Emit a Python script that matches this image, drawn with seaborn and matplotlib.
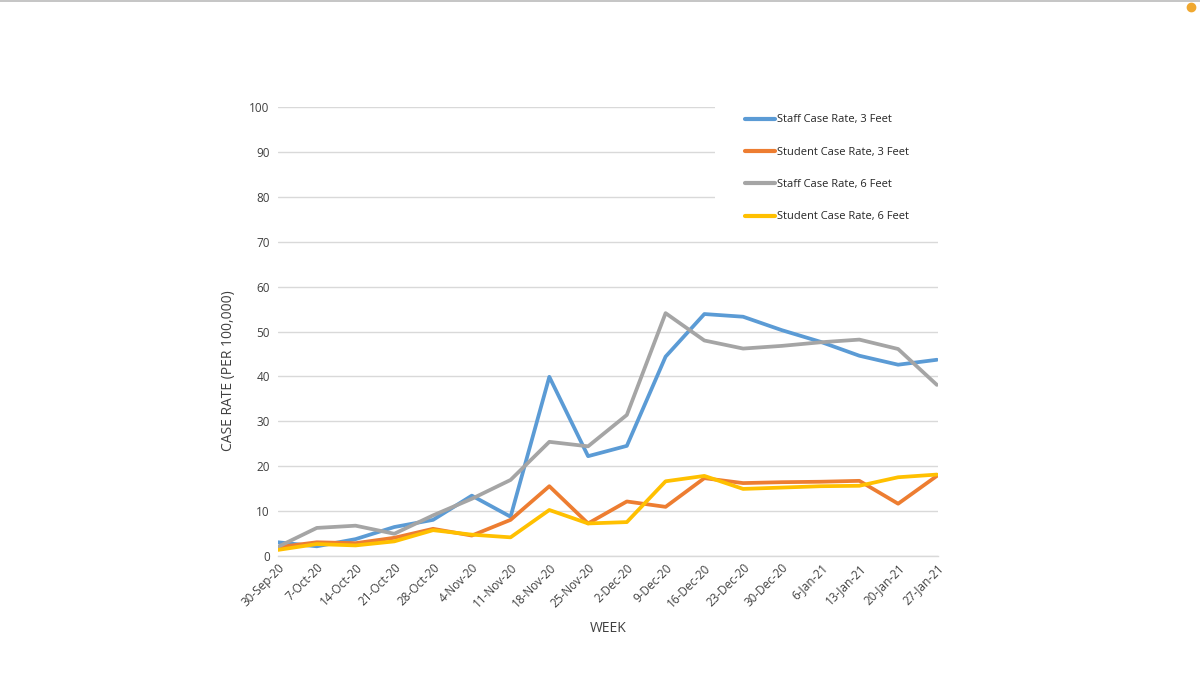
import matplotlib
matplotlib.use("Agg")
import matplotlib.pyplot as plt
from matplotlib.lines import Line2D
from matplotlib.patches import Rectangle
import seaborn as sns
import pandas as pd

weeks = ["30-Sep-20", "7-Oct-20", "14-Oct-20", "21-Oct-20", "28-Oct-20", "4-Nov-20",
         "11-Nov-20", "18-Nov-20", "25-Nov-20", "2-Dec-20", "9-Dec-20", "16-Dec-20",
         "23-Dec-20", "30-Dec-20", "6-Jan-21", "13-Jan-21", "20-Jan-21", "27-Jan-21"]

staff_3ft = [3.0, 2.1, 3.7, 6.4, 8.0, 13.4, 8.7, 39.9, 22.2, 24.5, 44.4, 53.9,
             53.3, 50.3, 47.7, 44.6, 42.6, 43.7]
student_3ft = [1.9, 3.0, 2.8, 4.0, 6.0, 4.5, 8.0, 15.5, 7.2, 12.1, 10.9, 17.3,
               16.2, 16.4, 16.5, 16.7, 11.6, 17.8]
staff_6ft = [2.0, 6.2, 6.7, 4.9, 9.0, 12.7, 16.9, 25.4, 24.4, 31.4, 54.1, 48.0,
             46.2, 46.8, 47.6, 48.2, 46.1, 38.1]
student_6ft = [1.3, 2.6, 2.3, 3.2, 5.7, 4.7, 4.1, 10.2, 7.2, 7.5, 16.6, 17.8,
               14.9, 15.2, 15.5, 15.6, 17.5, 18.1]

series_names = ["Staff Case Rate, 3 Feet", "Student Case Rate, 3 Feet",
                "Staff Case Rate, 6 Feet", "Student Case Rate, 6 Feet"]
series_values = [staff_3ft, student_3ft, staff_6ft, student_6ft]
colors = ["#5B9BD5", "#ED7D31", "#A5A5A5", "#FFC000"]

rows = []
for name, vals in zip(series_names, series_values):
    for i, v in enumerate(vals):
        rows.append({"idx": i, "value": v, "series": name})
df = pd.DataFrame(rows)

sns.set_theme(style="white")
plt.rcParams["font.family"] = ["Open Sans", "DejaVu Sans"]

fig = plt.figure(figsize=(12, 6.75), dpi=100)
ax = fig.add_axes([0.2317, 0.1767, 0.5500, 0.6643])

sns.lineplot(data=df, x="idx", y="value", hue="series", hue_order=series_names,
             palette=colors, linewidth=2.7, ax=ax, legend=True)

ax.set_xlim(0, len(weeks) - 1 + 0.03)
ax.set_ylim(0, 100)
ax.set_yticks(range(0, 101, 10))
ax.set_xticks(range(len(weeks)))
ax.set_xticklabels(weeks, rotation=45, ha="right", rotation_mode="anchor")
ax.tick_params(axis="both", length=0, labelsize=8.5, colors="#404040")
ax.tick_params(axis="y", pad=6)
ax.tick_params(axis="x", pad=4)
ax.yaxis.grid(True, color="#D9D9D9", linewidth=1)
ax.xaxis.grid(False)
ax.set_axisbelow(True)
for s in ["left", "right", "top"]:
    ax.spines[s].set_visible(False)
ax.spines["bottom"].set_color("#D9D9D9")
ax.spines["bottom"].set_linewidth(1)

ax.set_xlabel("WEEK", fontsize=10, color="#404040", labelpad=8)
ax.set_ylabel("CASE RATE (PER 100,000)", fontsize=10, color="#404040")
ax.yaxis.set_label_coords(-0.063, 0.412)

# white legend area covering the gridlines (as in the source chart)
ax.add_patch(Rectangle((0.662, 0.72), 0.36, 0.31, transform=ax.transAxes,
                       facecolor="white", edgecolor="none", zorder=1.5,
                       clip_on=False))

leg = ax.legend(loc="upper left", bbox_to_anchor=(0.7076, 0.984), frameon=False,
                fontsize=8, handlelength=2.7, handletextpad=0.18,
                labelspacing=1.92, borderpad=0, borderaxespad=0)
for t in leg.get_texts():
    t.set_color("#262626")
for h in leg.get_lines():
    h.set_linewidth(3)

# screenshot frame details
fig.add_artist(Line2D([0, 1], [0.998, 0.998], color="#BBBBBB", linewidth=1.2,
                      transform=fig.transFigure))
fig.add_artist(Line2D([1191 / 1200], [1 - 7 / 675], marker="o", markersize=6,
                      color="#F0A830", linestyle="none", transform=fig.transFigure))

fig.savefig("out.png", dpi=100, facecolor="white")
